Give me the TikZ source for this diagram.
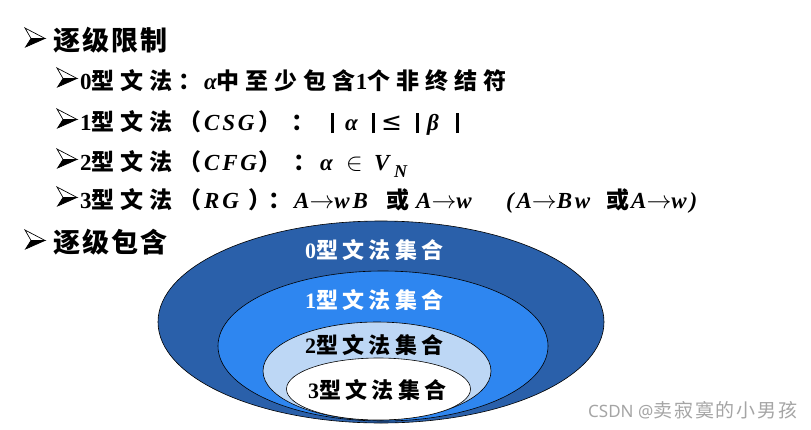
\documentclass[tikz,border=0pt]{standalone}
\usepackage{fontspec}
\setmainfont{Liberation Serif}[LetterSpace=12]
\newfontfamily\zhHead{Noto Sans CJK SC}[LetterSpace=8]
\newfontfamily\zhBody{Noto Sans CJK SC}[LetterSpace=26]
\newfontfamily\zhLabel{Noto Sans CJK SC}[LetterSpace=20]
\newfontfamily\symsans{DejaVu Sans}
\newfontfamily\wmlat{Noto Sans}
\newfontfamily\wmzh{Noto Sans CJK SC}[LetterSpace=10]
\newcommand\zhB[1]{{\zhBody\bfseries #1}}
\newcommand\zhL[1]{{\zhLabel\bfseries #1}}
\newcommand\itB[1]{{\bfseries\itshape #1}}
\newcommand\rmB[1]{{\bfseries #1}}
\newcommand\arr{{\fontsize{29}{29}\selectfont$\rightarrow$}}
\newcommand\vbar{\rule[-3pt]{2.4pt}{20pt}}
\definecolor{blueA}{RGB}{42,96,170}
\definecolor{blueB}{RGB}{46,134,240}
\definecolor{blueC}{RGB}{189,215,245}
\definecolor{wmgray}{RGB}{165,165,165}
\tikzset{
  headline/.style={anchor=base west, inner sep=0pt, font=\zhHead\bfseries\fontsize{27}{27}\selectfont},
  seg/.style={anchor=base west, inner sep=0pt, font=\fontsize{23}{23}\selectfont},
  setshape/.style={draw=black, line width=0.6pt},
  setlabel/.style={anchor=base west, inner sep=0pt, font=\fontsize{22}{22}\selectfont},
  pics/bulletarrow/.style args={#1/#2}{code={
    \fill[black] (0.3*#1,0.55*#2) -- (#1,0.55*#2) -- (0.03*#1,#2) -- cycle;
    \draw[black, line width=0.7pt, line join=miter, fill=white]
      (0,0) -- (#1,0.55*#2) -- (0.3*#1,0.55*#2) -- cycle;
    \draw[black, line width=0.7pt] (#1,0.55*#2) -- (0.03*#1,#2) -- (0.3*#1,0.55*#2);
  }},
}
\begin{document}
\begin{tikzpicture}[x=1pt, y=-1pt]
\useasboundingbox (0,0) rectangle (811,429);
\fill[white] (0,0) rectangle (811,429);

% bullets
\pic at (25,28) {bulletarrow=20/19};
\pic at (57,68) {bulletarrow=20/19};
\pic at (57,109) {bulletarrow=20/19};
\pic at (57,149) {bulletarrow=20/19};
\pic at (57,187) {bulletarrow=20/19};
\pic at (25,230) {bulletarrow=20/19};

% line 1
\node[headline] (l1) at (53,50) {逐级限制};
% line 2
\node[seg] (l2a) at (80,89) {\rmB{0}\zhB{型文法：}};
\node[seg] (l2b) at (204,89) {\itB{α}\zhB{中至少包含}\rmB{1}\zhB{个非终结符}};
% line 3
\node[seg] (l3a) at (80,130) {\rmB{1}\zhB{型文法（}};
\node[seg] (l3b) at (204,130) {\itB{CSG}};
\node[seg] (l3c) at (258,130) {\zhB{）}};
\node[seg] (l3d) at (291,130) {\zhB{：}};
\node[seg] (l3e) at (331,130) {\vbar};
\node[seg] (l3f) at (345,130) {\itB{α}};
\node[seg] (l3g) at (372,130) {\vbar};
\node[anchor=base west, inner sep=0pt, font=\symsans\fontsize{25}{25}\selectfont] (l3h) at (381,130) {≤};
\node[seg] (l3i) at (416,130) {\vbar};
\node[seg] (l3j) at (427,130) {\itB{β}};
\node[seg] (l3k) at (456,130) {\vbar};
% line 4
\node[seg] (l4a) at (80,170) {\rmB{2}\zhB{型文法（}};
\node[seg] (l4b) at (204,170) {\itB{CFG}};
\node[seg] (l4c) at (258,170) {\zhB{）}};
\node[seg] (l4d) at (293,170) {\zhB{：}};
\node[seg] (l4e) at (320,170) {\itB{α}};
\node[seg] (l4f) at (346,170) {$\in$};
\node[seg] (l4g) at (374,170) {\itB{V}};
\node[anchor=base west, inner sep=0pt, font=\fontsize{18}{18}\selectfont] (l4h) at (394,177) {\itB{N}};
% line 5
\node[seg] (l5a) at (80,208) {\rmB{3}\zhB{型文法（}};
\node[seg] (l5b) at (204,208) {\itB{RG}};
\node[seg] (l5c) at (248,208) {\zhB{）}};
\node[seg] (l5d) at (268,208) {\zhB{：}};
\node[seg] (l5e) at (294,208) {\itB{A}\arr\itB{wB}};
\node[seg] (l5f) at (386,208) {\zhB{或}};
\node[seg] (l5g) at (416,208) {\itB{A}\arr\itB{w}};
\node[seg] (l5h) at (506,208) {\itB{(A}\arr\itB{Bw}};
\node[seg] (l5i) at (606,208) {\zhB{或}};
\node[seg] (l5j) at (631,208) {\itB{A}\arr\itB{w)}};
% line 6
\node[headline] (l6) at (53,252) {逐级包含};

% nested sets
\draw[setshape, fill=blueA] (381,322) ellipse [x radius=223, y radius=101];
\draw[setshape, fill=blueB] (383,346) ellipse [x radius=165, y radius=75];
\draw[setshape, fill=blueC] (377,371) ellipse [x radius=114, y radius=49];
\draw[setshape, fill=white] (378.5,389) ellipse [x radius=92, y radius=31];

\node[setlabel, text=white] (s0) at (305,258) {\rmB{0}\zhL{型文法集合}};
\node[setlabel, text=white] (s1) at (305,308) {\rmB{1}\zhL{型文法集合}};
\node[setlabel, text=black] (s2) at (305,353) {\rmB{2}\zhL{型文法集合}};
\node[setlabel, text=black] (s3) at (308,398) {\rmB{3}\zhL{型文法集合}};

% watermark
\node[anchor=base west, inner sep=0pt, text=wmgray] (wm) at (588,417) {{\wmlat\fontsize{17}{17}\selectfont CSDN @}{\wmzh\fontsize{19}{19}\selectfont 卖寂寞的小男孩}};
\end{tikzpicture}
\end{document}
